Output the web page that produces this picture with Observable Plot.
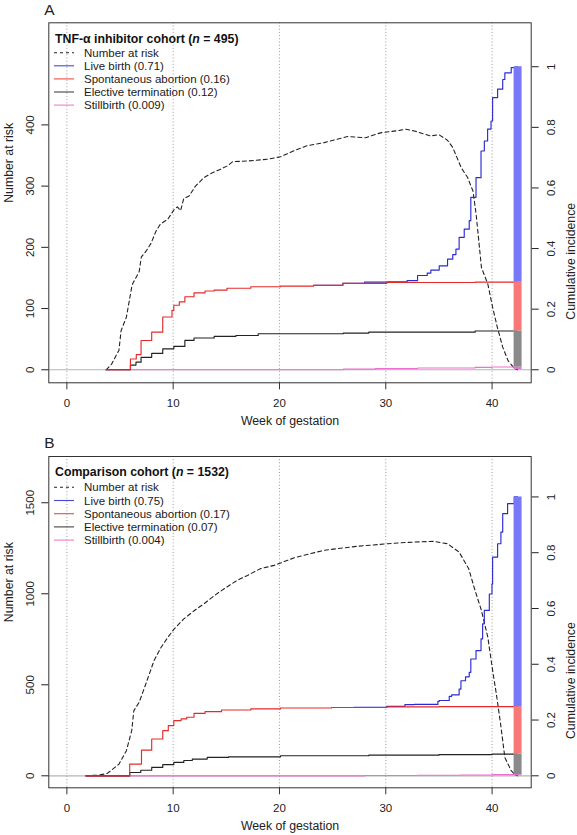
<!DOCTYPE html>
<html>
<head>
<meta charset="utf-8">
<script src="https://cdn.jsdelivr.net/npm/d3@7"></script>
<script src="https://cdn.jsdelivr.net/npm/@observablehq/plot@0.6"></script>
<style>
  html, body { margin: 0; padding: 0; background: #fff; }
  #wrap { width: 577px; }
  #wrap svg { display: block; }
</style>
</head>
<body>
<div id="wrap"></div>
<script>
// ---------- data ----------
const weekTicks = [0, 10, 20, 30, 40];
const ciTicks = [0, 0.2, 0.4, 0.6, 0.8, 1];
const endWeek = 42.4;

// Panel A: TNF-alpha inhibitor cohort
const nA = 495;
const riskTicksA = [0, 100, 200, 300, 400];
const legendA = ["Live birth (0.71)", "Spontaneous abortion (0.16)", "Elective termination (0.12)", "Stillbirth (0.009)"];
const riskA = [[3.7,0],[4.2,9],[4.9,32],[5.1,64],[5.6,86],[6.1,135],[6.2,141],[6.8,160],[7.0,184],[7.5,195],[7.9,206],[8.4,227],[8.8,238],[9.5,246],[10.1,262],[10.4,266],[10.7,260],[11.0,280],[11.5,284],[12.1,300],[12.9,314],[13.7,322],[14.5,328],[15.1,333],[15.6,340],[17.0,341],[18.9,344],[20.1,348],[21.4,358],[22.6,366],[24.2,371],[26.4,381],[28.1,379],[29.5,387],[31.3,391],[31.9,393],[32.7,390],[34.2,382],[35.0,384],[35.8,375],[36.3,363],[37.1,330],[37.7,314],[38.2,292],[38.5,254],[39.0,167],[39.6,140],[40.05,102],[40.5,69],[41.0,37],[41.5,15],[42.1,2],[42.4,0]];
const stillA = [[3.7,0],[26,0.002],[29,0.004],[33,0.006],[38.4,0.008],[40,0.009],[42.4,0.009]];
const electiveA = [[3.7,0],[5.98,0.0155],[6.5,0.025],[6.98,0.041],[7.98,0.054],[9.02,0.069],[10.06,0.077],[11.1,0.097],[11.96,0.105],[13.86,0.11],[15.9,0.113],[18.0,0.119],[26.0,0.121],[28.4,0.124],[38.4,0.128],[42.4,0.128]];
const spontA = [[3.7,0],[5.98,0.0355],[6.53,0.05],[6.98,0.0966],[7.98,0.124],[9.02,0.174],[9.89,0.196],[10.06,0.213],[10.58,0.224],[11.1,0.241],[11.96,0.254],[13.0,0.26],[13.86,0.263],[15.07,0.269],[17.3,0.274],[20.1,0.276],[23.2,0.279],[25.96,0.285],[30.1,0.288],[38.4,0.289],[42.4,0.289]];
const liveA = [[23.2,0.279],[25.96,0.285],[28.0,0.289],[30.1,0.29],[32.0,0.294],[32.99,0.311],[33.9,0.319],[34.24,0.329],[35.03,0.343],[35.81,0.365],[36.3,0.38],[36.6,0.398],[36.9,0.437],[37.38,0.464],[37.85,0.492],[38.0,0.569],[38.49,0.634],[38.96,0.722],[39.27,0.755],[39.58,0.794],[39.9,0.821],[40.05,0.898],[40.52,0.926],[41.0,0.958],[41.2,0.98],[41.8,0.997],[42.2,1.0],[42.4,1.0]];

// Panel B: comparison cohort
const nB = 1532;
const riskTicksB = [0, 500, 1000, 1500];
const legendB = ["Live birth (0.75)", "Spontaneous abortion (0.17)", "Elective termination (0.07)", "Stillbirth (0.004)"];
const riskB = [[1.8,0],[3.0,4],[3.8,13],[4.9,64],[5.6,138],[6.1,248],[6.3,358],[6.8,404],[7.4,500],[8.2,633],[8.8,700],[9.5,761],[10.1,807],[11.0,862],[12.0,908],[12.9,945],[13.9,991],[14.8,1028],[16.0,1073],[17.0,1101],[18.2,1138],[19.5,1156],[21.4,1198],[24.2,1239],[27.3,1261],[30.2,1275],[31.4,1280],[32.7,1284],[34.5,1288],[35.8,1275],[36.9,1229],[37.8,1138],[38.3,1037],[39.0,908],[39.6,761],[40.1,560],[40.4,450],[40.8,285],[41.2,101],[41.8,28],[42.2,4],[42.4,0]];
const stillB = [[1.8,0],[28,0.001],[33,0.002],[37,0.003],[40,0.004],[42.4,0.004]];
const electiveB = [[1.8,0],[5.91,0.012],[6.95,0.02],[7.98,0.03],[9.02,0.04],[10.06,0.048],[11.0,0.055],[11.8,0.06],[13.2,0.066],[15.2,0.068],[20.1,0.072],[28.4,0.074],[35,0.076],[40,0.078],[42.4,0.078]];
const spontB = [[1.8,0],[5.91,0.042],[7.02,0.092],[7.98,0.132],[9.02,0.162],[9.54,0.18],[10.06,0.198],[10.75,0.204],[11.27,0.21],[11.96,0.224],[13.0,0.23],[14.55,0.236],[17.3,0.24],[20.1,0.243],[24.9,0.245],[30.1,0.247],[35,0.248],[42.4,0.248]];
const liveB = [[27,0.246],[30.1,0.249],[31.8,0.255],[32.67,0.256],[34.9,0.267],[35.03,0.27],[35.97,0.285],[36.2,0.29],[36.9,0.311],[37.07,0.341],[37.5,0.355],[37.85,0.371],[38.0,0.419],[38.49,0.449],[38.96,0.491],[39.11,0.545],[39.27,0.593],[39.74,0.652],[39.99,0.688],[40.05,0.784],[40.52,0.832],[40.83,0.874],[41.0,0.94],[41.46,0.976],[42.09,1.0],[42.4,1.0]];

// ---------- styling ----------
const FONT = "'Liberation Sans', Arial, Helvetica, sans-serif";
const C = {
  live: "#2b2bd3", spont: "#e42a2a", elect: "#222222", still: "#ec6fd2",
  liveBar: "#7878f8", spontBar: "#f87878", electBar: "#8a8a8a", stillBar: "#dd77dd",
  legLive: "#4747d6", legSpont: "#ef4b4b", legElect: "#444", legStill: "#f27cc6"
};

function panel(opts) {
  const {letter, n, riskTicks, risk, still, elective, spont, live, height, marginTop, title, nText, legend, legendTop} = opts;
  const last = a => a[a.length - 1][1];
  const bars = [
    {y1: 0, y2: last(still), c: C.stillBar},
    {y1: last(still), y2: last(elective), c: C.electBar},
    {y1: last(elective), y2: last(spont), c: C.spontBar},
    {y1: last(spont), y2: last(live), c: C.liveBar}
  ];
  const step = (data, stroke) => Plot.line(data, {x: d => d[0], y: d => d[1], curve: "step-after", stroke, strokeWidth: 1.15});
  const svg = Plot.plot({
    width: 577, height,
    marginTop, marginBottom: 47.7, marginLeft: 48.3, marginRight: 46.3,
    x: {domain: [-1.7, 43.68]},
    y: {domain: [-0.043, 1.145]},
    style: {fontFamily: FONT, fontSize: "11px", color: "#222", background: "#fff", overflow: "visible"},
    marks: [
      Plot.ruleX(weekTicks, {stroke: "#9c9c9c", strokeDasharray: "1,2.2"}),
      Plot.ruleY([0], {stroke: "#b4b4b4", strokeWidth: 1.2}),
      Plot.line(risk, {x: d => d[0], y: d => d[1] / n, stroke: "#222", strokeWidth: 1.1, strokeDasharray: "4,3"}),
      step(live, C.live),
      step(still, C.still),
      step(elective, C.elect),
      step(spont, C.spont),
      Plot.ruleX(bars, {x: () => endWeek, y1: "y1", y2: "y2", stroke: "c", strokeWidth: 8}),
      Plot.frame({stroke: "#333"}),
      Plot.axisX({ticks: weekTicks, tickSize: 7, tickPadding: 9, label: null, fontSize: 11.5, stroke: "#333"}),
      Plot.axisY({anchor: "left", ticks: riskTicks.map(v => v / n), tickFormat: d => String(Math.round(d * n)),
        tickSize: 7, tickPadding: 8, tickRotate: -90, lineAnchor: "bottom", label: null, fontSize: 11.5}),
      Plot.axisY({anchor: "right", ticks: ciTicks, tickFormat: d => String(d),
        tickSize: 7, tickPadding: 9, tickRotate: -90, lineAnchor: "top", label: null, fontSize: 11.5}),
      Plot.text(["Week of gestation"], {text: d => d, frameAnchor: "bottom", dy: 38.5, lineAnchor: "middle", fontSize: 12.3}),
      Plot.text(["Number at risk"], {text: d => d, frameAnchor: "left", dx: -40, rotate: -90, lineAnchor: "middle", fontSize: 12.3}),
      Plot.text(["Cumulative incidence"], {text: d => d, frameAnchor: "right", dx: 40, rotate: -90, lineAnchor: "middle", fontSize: 12.3}),
      Plot.text([letter], {text: d => d, frameAnchor: "top-left", dx: -4.5, dy: -(marginTop - opts.letterY), textAnchor: "start", lineAnchor: "middle", fontSize: 15.5})
    ]
  });

  // in-plot legend (no box)
  const g = d3.select(svg).append("g").attr("font-family", FONT).attr("fill", "#111").attr("text-anchor", "start");
  const t = g.append("text").attr("x", 55).attr("y", legendTop.title + 4.4).attr("font-size", 12.3).attr("font-weight", "bold");
  t.append("tspan").text(title + " (");
  t.append("tspan").attr("font-style", "italic").text("n");
  t.append("tspan").text(" = " + nText + ")");
  const items = [
    {label: "Number at risk", color: "#222", dash: "3,3"},
    {label: legend[0], color: C.legLive},
    {label: legend[1], color: C.legSpont},
    {label: legend[2], color: C.legElect},
    {label: legend[3], color: C.legStill}
  ];
  items.forEach((it, i) => {
    const yc = legendTop.first + i * legendTop.step;
    g.append("line").attr("x1", 54).attr("x2", 74).attr("y1", yc).attr("y2", yc)
      .attr("stroke", it.color).attr("stroke-width", 1.1).attr("stroke-dasharray", it.dash || null);
    g.append("text").attr("x", 84).attr("y", yc + 4.1).attr("font-size", 11.5).attr("fill", "#1a1a1a").text(it.label);
  });
  return svg;
}

const wrap = document.getElementById("wrap");
wrap.appendChild(panel({
  letter: "A", letterY: 9.5, n: nA, riskTicks: riskTicksA, risk: riskA, still: stillA, elective: electiveA, spont: spontA, live: liveA,
  height: 430, marginTop: 22.3, title: "TNF-\u03B1 inhibitor cohort", nText: "495", legend: legendA,
  legendTop: {title: 39, first: 52.7, step: 13.1}
}));
wrap.appendChild(panel({
  letter: "B", letterY: 12.5, n: nB, riskTicks: riskTicksB, risk: riskB, still: stillB, elective: electiveB, spont: spontB, live: liveB,
  height: 405, marginTop: 26, title: "Comparison cohort", nText: "1532", legend: legendB,
  legendTop: {title: 41.7, first: 57.3, step: 13.2}
}));
</script>
</body>
</html>
